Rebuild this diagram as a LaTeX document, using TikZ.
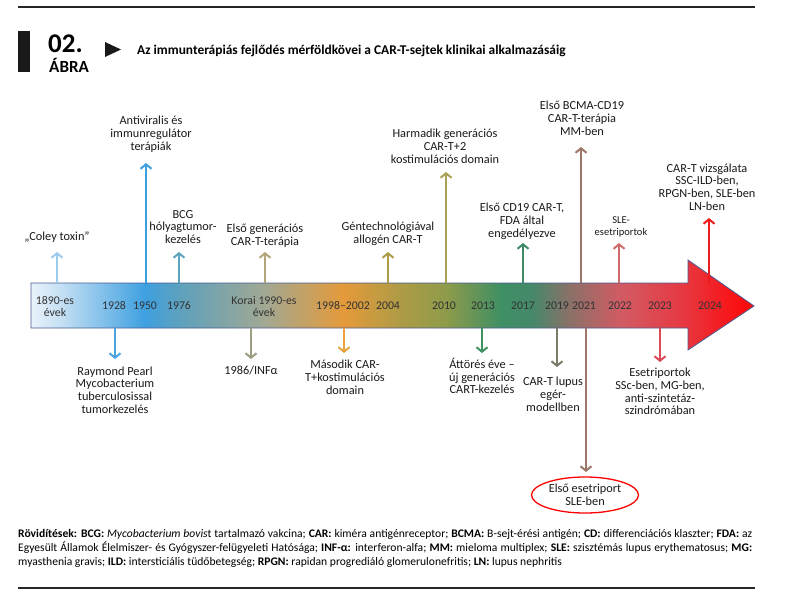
\documentclass[tikz,border=0pt]{standalone}
\usepackage{fontspec}
\setmainfont{Carlito}
\usepackage{tikz}
\usetikzlibrary{arrows.meta,shapes.geometric,positioning}
\definecolor{tlA}{HTML}{E9F3FB}
\definecolor{tlB}{HTML}{C6E0F4}
\definecolor{tlC}{HTML}{3EA0E0}
\definecolor{tlD}{HTML}{5EA1BD}
\definecolor{tlE}{HTML}{A2A892}
\definecolor{tlF}{HTML}{E59A3A}
\definecolor{tlG}{HTML}{AD9B46}
\definecolor{tlH}{HTML}{8E9B4A}
\definecolor{tlI}{HTML}{3F8F64}
\definecolor{tlJ}{HTML}{45896A}
\definecolor{tlK}{HTML}{8C7068}
\definecolor{tlL}{HTML}{D25B63}
\definecolor{tlM}{HTML}{E63A44}
\definecolor{tlN}{HTML}{FF0505}
\definecolor{barline}{HTML}{4B5B92}
\definecolor{yeartext}{HTML}{333333}
\definecolor{cColey}{HTML}{9DCBEE}
\definecolor{cAntivir}{HTML}{3DA0DE}
\definecolor{cBcg}{HTML}{5FA2BC}
\definecolor{cPearl}{HTML}{4AA3DF}
\definecolor{cGenA}{HTML}{B3A57A}
\definecolor{cInfa}{HTML}{9E9C82}
\definecolor{cGenB}{HTML}{E8A33F}
\definecolor{cAllo}{HTML}{AC9C45}
\definecolor{cGenC}{HTML}{A9A255}
\definecolor{cBreak}{HTML}{3F915F}
\definecolor{cFda}{HTML}{3E8B66}
\definecolor{cMouse}{HTML}{7C7B69}
\definecolor{cBcma}{HTML}{9C7669}
\definecolor{cSle}{HTML}{D06B6C}
\definecolor{cSsc}{HTML}{DA4B57}
\definecolor{cNow}{HTML}{EE1C1C}
\pgfdeclarehorizontalshading{timeline}{100bp}{color(0bp)=(tlA); color(25bp)=(tlA);
  color(27bp)=(tlB); color(32.9bp)=(tlC); color(35.3bp)=(tlD); color(41.2bp)=(tlE);
  color(46.6bp)=(tlF); color(50.6bp)=(tlG); color(53.7bp)=(tlH); color(57.5bp)=(tlI);
  color(59.6bp)=(tlJ); color(62.3bp)=(tlK); color(65.8bp)=(tlL); color(69.9bp)=(tlM);
  color(75bp)=(tlN); color(100bp)=(tlN)}
\newcommand\lblsize{\fontsize{12.3}{12.8}\selectfont}
\newcommand\yrsize{\fontsize{11.8}{12.5}\selectfont}
\newcommand\abbrsize{\fontsize{11.6}{14}\selectfont}
\tikzstyle{rule}=[line width=2.4pt,black!85]
\tikzstyle{mile}=[line width=2pt,-{Straight Barb[length=4.5pt,width=11pt]}]
\tikzstyle{lbl}=[font=\lblsize,align=center,inner sep=0pt,text=black!90]
\tikzstyle{yr}=[font=\yrsize,align=center,inner sep=0pt,text=yeartext]
\tikzstyle{small}=[font=\fontsize{10.5}{12}\selectfont]

\begin{document}
\begin{tikzpicture}[x=1pt,y=-1pt]
\useasboundingbox (0,0) rectangle (786,600);
% rules
\draw[rule] (18,7) -- (755,7);
\draw[rule] (18,588) -- (755,588);
% header
\fill[black!90] (18,31) rectangle (30,72);
\node[anchor=west,inner sep=0pt] (num) at (48,44) {\fontsize{27}{27}\selectfont\bfseries 02.};
\node[anchor=west,inner sep=0pt] (abra) at (49,65.5) {\fontsize{17}{17}\selectfont\bfseries ÁBRA};
\fill[black!90] (105,42) -- (121,49.5) -- (105,57) -- cycle;
\node[anchor=west,inner sep=0pt] (title) at (137,51)
  {\fontsize{13.4}{14}\selectfont\bfseries Az immunterápiás fejlődés mérföldkövei a CAR-T-sejtek klinikai alkalmazásáig};
% the arrow
\shadedraw[shading=timeline,draw=barline,line width=0.8pt] (31,283) -- (688,283) -- (688,260)
  -- (754,306) -- (688,350) -- (688,328) -- (31,328) -- cycle;
% years
\node[yr] (y1890) at (55,306.5) {1890-es\\évek};
\node[yr] (y1928) at (114,306) {1928};
\node[yr] (y1950) at (145,306) {1950};
\node[yr] (y1976) at (179,306) {1976};
\node[yr] (y1990) at (264,306.5) {Korai 1990-es\\évek};
\node[yr] (y1998) at (343,306) {1998–2002};
\node[yr] (y2004) at (388,306) {2004};
\node[yr] (y2010) at (444,306) {2010};
\node[yr] (y2013) at (483,306) {2013};
\node[yr] (y2017) at (523,306) {2017};
\node[yr] (y2019) at (557,306) {2019};
\node[yr] (y2021) at (584,306) {2021};
\node[yr] (y2022) at (620,306) {2022};
\node[yr] (y2023) at (660,306) {2023};
\node[yr] (y2024) at (710,306) {2024};
% anchor points on the bar
\coordinate (bColey) at (57,283);   \coordinate (tColey) at (57,252);
\coordinate (bAntivir) at (146,283); \coordinate (tAntivir) at (146,163);
\coordinate (bBcg) at (179,283);    \coordinate (tBcg) at (179,252);
\coordinate (bGenA) at (265,283);   \coordinate (tGenA) at (265,252);
\coordinate (bAllo) at (388,283);   \coordinate (tAllo) at (388,252);
\coordinate (bGenC) at (446,283);   \coordinate (tGenC) at (446,172);
\coordinate (bFda) at (523,283);    \coordinate (tFda) at (523,243);
\coordinate (bBcma) at (581,283);   \coordinate (tBcma) at (581,147);
\coordinate (bSle) at (619,283);    \coordinate (tSle) at (619,243);
\coordinate (bNow) at (709,283);    \coordinate (tNow) at (709,218);
\coordinate (bPearl) at (115,328);  \coordinate (tPearl) at (115,359);
\coordinate (bInfa) at (251,328);   \coordinate (tInfa) at (251,359);
\coordinate (bGenB) at (344,328);   \coordinate (tGenB) at (344,353);
\coordinate (bBreak) at (482,328);  \coordinate (tBreak) at (482,353);
\coordinate (bMouse) at (557,328);  \coordinate (tMouse) at (557,367);
\coordinate (bFirst) at (586,328);  \coordinate (tFirst) at (586,472);
\coordinate (bSsc) at (660,328);    \coordinate (tSsc) at (660,362);
% labels above
\node[lbl] (coley) at (57,237) {„Coley toxin”};
\node[lbl] (antivir) at (151,134.5) {Antiviralis és\\immunregulátor\\terápiák};
\node[lbl] (bcg) at (183,227) {BCG\\hólyagtumor-\\kezelés};
\node[lbl] (genA) at (265,236) {Első generációs\\CAR-T-terápia};
\node[lbl] (allo) at (388,234) {Géntechnológiával\\allogén CAR-T};
\node[lbl] (genC) at (445,146) {Harmadik generációs\\CAR-T+2\\kostimulációs domain};
\node[lbl] (fda) at (522,221) {Első CD19 CAR-T,\\FDA által\\engedélyezve};
\node[lbl] (bcma) at (582,118) {Első BCMA-CD19\\CAR-T-terápia\\MM-ben};
\node[lbl,small] (sle) at (621,227) {SLE-\\esetriportok};
\node[lbl] (now) at (707,187) {CAR-T vizsgálata\\SSC-ILD-ben,\\RPGN-ben, SLE-ben\\LN-ben};
% labels below
\node[lbl] (pearl) at (115,390) {Raymond Pearl\\Mycobacterium\\tuberculosissal\\tumorkezelés};
\node[lbl] (infa) at (251,370) {1986/INFα};
\node[lbl] (genB) at (345,377.5) {Második CAR-\\T+kostimulációs\\domain};
\node[lbl] (break) at (482,376) {Áttörés éve –\\új generációs\\CART-kezelés};
\node[lbl] (mouse) at (553,394) {CAR-T lupus\\egér-\\modellben};
\node[lbl] (ssc) at (660,391.5) {Esetriportok\\SSc-ben, MG-ben,\\anti-szintetáz-\\szindrómában};
\node[lbl,ellipse,draw=red,line width=1.3pt,minimum width=107pt,minimum height=36pt]
  (first) at (585,495) {Első esetriport\\SLE-ben};
% milestone arrows
\draw[mile,cColey] (bColey) -- (tColey);
\draw[mile,cAntivir] (bAntivir) -- (tAntivir);
\draw[mile,cBcg] (bBcg) -- (tBcg);
\draw[mile,cGenA] (bGenA) -- (tGenA);
\draw[mile,cAllo] (bAllo) -- (tAllo);
\draw[mile,cGenC] (bGenC) -- (tGenC);
\draw[mile,cFda] (bFda) -- (tFda);
\draw[mile,cBcma] (bBcma) -- (tBcma);
\draw[mile,cSle] (bSle) -- (tSle);
\draw[mile,cNow] (bNow) -- (tNow);
\draw[mile,cPearl] (bPearl) -- (tPearl);
\draw[mile,cInfa] (bInfa) -- (tInfa);
\draw[mile,cGenB] (bGenB) -- (tGenB);
\draw[mile,cBreak] (bBreak) -- (tBreak);
\draw[mile,cMouse] (bMouse) -- (tMouse);
\draw[mile,cBcma] (bFirst) -- (tFirst);
\draw[mile,cSsc] (bSsc) -- (tSsc);
% abbreviations
\node[anchor=north west,inner sep=0pt,align=left,font=\abbrsize] (abbr) at (18,529)
  {\makebox[734pt][s]{\textbf{Rövidítések:} \textbf{BCG:} \textit{Mycobacterium bovis}t tartalmazó vakcina; \textbf{CAR:} kiméra antigénreceptor; \textbf{BCMA:} B-sejt-érési antigén; \textbf{CD:} differenciációs klaszter; \textbf{FDA:} az}\\
   \makebox[734pt][s]{Egyesült Államok Élelmiszer- és Gyógyszer-felügyeleti Hatósága; \textbf{INF-α:} interferon-alfa; \textbf{MM:} mieloma multiplex; \textbf{SLE:} szisztémás lupus erythematosus; \textbf{MG:}}\\
   myasthenia gravis; \textbf{ILD:} intersticiális tüdőbetegség; \textbf{RPGN:} rapidan progrediáló glomerulonefritis; \textbf{LN:} lupus nephritis};
\end{tikzpicture}
\end{document}
